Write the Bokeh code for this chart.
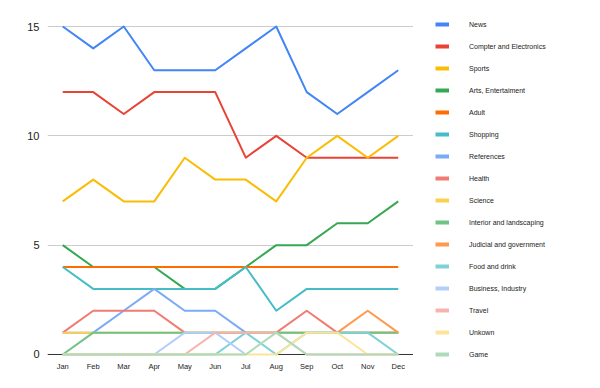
from bokeh.plotting import figure
from bokeh.layouts import row
from bokeh.models import FactorRange, Range1d, FixedTicker, Span, Legend, LegendItem, ColumnDataSource
from bokeh.embed import file_html
from bokeh.resources import INLINE

nan = float("nan")

months = ["Jan", "Feb", "Mar", "Apr", "May", "Jun", "Jul", "Aug", "Sep", "Oct", "Nov", "Dec"]

series_names = ["News", "Compter and Electronics", "Sports", "Arts, Entertaiment", "Adult",
                "Shopping", "References", "Health", "Science", "Interior and landscaping",
                "Judicial and government", "Food and drink", "Business, Industry", "Travel",
                "Unkown", "Game"]

news          = [15, 14, 15, 13, 13, 13, 14, 15, 12, 11, 12, 13]
computer      = [12, 12, 11, 12, 12, 12, 9, 10, 9, 9, 9, 9]
sports        = [7, 8, 7, 7, 9, 8, 8, 7, 9, 10, 9, 10]
arts          = [5, 4, 4, 4, 3, 3, 4, 5, 5, 6, 6, 7]
adult         = [4, 4, 4, 4, 4, 4, 4, 4, 4, 4, 4, 4]
shopping      = [4, 3, 3, 3, 3, 3, 4, 2, 3, 3, 3, 3]
references    = [1, 1, 2, 3, 2, 2, 1, 1, 1, 1, 1, 1]
health        = [1, 2, 2, 2, 1, 1, 1, 1, 2, 1, 1, 1]
science       = [1, 1, 1, 1, 1, 1, 1, 1, 1, 1, 1, 1]
interior      = [0, 1, 1, 1, 1, 1, 1, 1, 1, 1, 1, 1]
judicial      = [nan, nan, nan, nan, nan, nan, nan, nan, nan, 1, 2, 1]
food          = [0, 0, 0, 0, 0, 0, 1, 0, 1, 1, 1, 0]
business      = [0, 0, 0, 0, 1, 1, 0, nan, nan, nan, nan, nan]
travel        = [0, 0, 0, 0, 0, 1, 1, 1, 0, 0, 0, 0]
unknown       = [0, 0, 0, 0, 0, 0, 0, 0, 1, 1, 0, 0]
game          = [0, 0, 0, 0, 0, 0, 0, 1, 0, 0, 0, 0]

series_values = [news, computer, sports, arts, adult, shopping, references, health, science,
                 interior, judicial, food, business, travel, unknown, game]

colors = ["#4285F4", "#EA4335", "#FBBC04", "#34A853", "#FF6D01", "#46BDC6", "#7BAAF7", "#F07B72",
          "#FCD04F", "#71C287", "#FF994D", "#7ED1D7", "#B3CEFB", "#F7B4AE", "#FDE49B", "#AEDCBA"]

y_ticks = [0, 5, 10, 15]

FONT = "Liberation Sans"

p = figure(width=413, height=388, output_backend="svg", toolbar_location=None,
           x_range=FactorRange(factors=months, range_padding=0),
           y_range=Range1d(-0.183, 15.183),
           min_border_left=47, min_border_right=0, min_border_top=22, min_border_bottom=30)
p.outline_line_color = None
p.background_fill_color = "white"
p.border_fill_color = "white"

p.xgrid.grid_line_color = None
p.ygrid.grid_line_color = "#cccccc"
p.ygrid.grid_line_width = 1

p.yaxis.ticker = FixedTicker(ticks=y_ticks)
p.yaxis.axis_line_color = None
p.yaxis.major_tick_line_color = None
p.yaxis.minor_tick_line_color = None
p.yaxis.major_tick_out = 0
p.yaxis.major_label_standoff = 8
p.yaxis.major_label_text_font = FONT
p.yaxis.major_label_text_font_size = "11px"
p.yaxis.major_label_text_color = "#222222"

p.xaxis.axis_line_color = None
p.xaxis.major_tick_line_color = None
p.xaxis.major_tick_out = 0
p.xaxis.major_label_standoff = 3
p.xaxis.major_label_text_font = FONT
p.xaxis.major_label_text_font_size = "7.5px"
p.xaxis.major_label_text_color = "#222222"

baseline = Span(location=0, dimension="width", line_color="#333333", line_width=1, level="underlay")
p.add_layout(baseline)

for name, vals, col in zip(series_names, series_values, colors):
    src = ColumnDataSource(dict(x=months, y=vals))
    p.line("x", "y", source=src, line_color=col, line_width=2, line_join="round")

# legend panel
lp = figure(width=187, height=388, output_backend="svg", toolbar_location=None,
            x_range=Range1d(0, 1), y_range=Range1d(0, 1),
            x_axis_type=None, y_axis_type=None,
            min_border_left=0, min_border_right=0, min_border_top=0, min_border_bottom=0)
lp.outline_line_color = None
lp.xgrid.visible = False
lp.ygrid.visible = False
lp.border_fill_color = "white"
lp.background_fill_color = "white"

items = []
for name, col in zip(series_names, colors):
    # swatch renderer: its data lie outside the visible range, only the legend sample shows
    dummy = lp.line(x=[5, 6], y=[5, 5], line_color=col, line_width=4)
    items.append(LegendItem(label=name, renderers=[dummy]))

legend = Legend(items=items, location=(22, -3), orientation="vertical",
                glyph_width=14, glyph_height=14, label_height=14, spacing=8,
                label_standoff=20, padding=0, margin=0,
                border_line_color=None, background_fill_alpha=0,
                label_text_font=FONT, label_text_font_size="7px", label_text_color="#222222")
lp.add_layout(legend)

layout = row(p, lp, spacing=0)

open("out.html", "w").write(file_html(layout, INLINE))
